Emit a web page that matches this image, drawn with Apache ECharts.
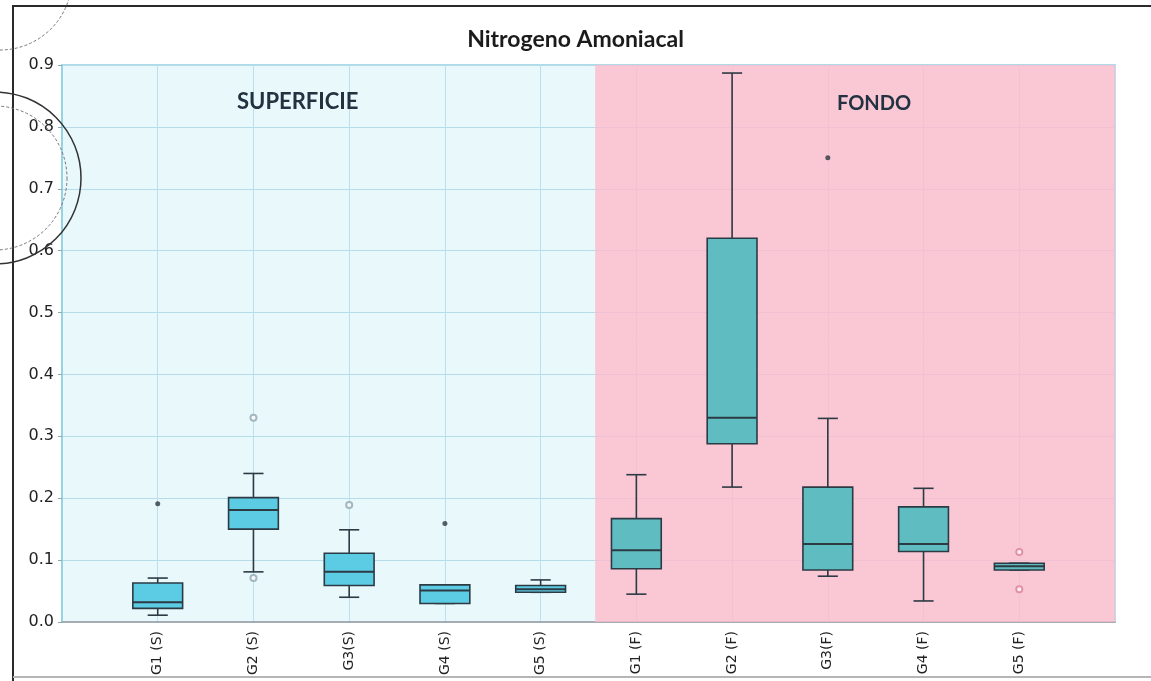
<!DOCTYPE html>
<html>
<head>
<meta charset="utf-8">
<script src="https://cdn.jsdelivr.net/npm/echarts@6/dist/echarts.min.js"></script>
<style>html,body{margin:0;padding:0;background:#fff;}#c{width:1151px;height:681px;}</style>
</head>
<body>
<div id="c"></div>
<script>
// ---- data ----
const categories = ['', 'G1 (S)', 'G2 (S)', 'G3(S)', 'G4 (S)', 'G5 (S)', 'G1 (F)', 'G2 (F)', 'G3(F)', 'G4 (F)', 'G5 (F)', ' '];
const yTicks = [0, 0.1, 0.2, 0.3, 0.4, 0.5, 0.6, 0.7, 0.8, 0.9];
// [min, Q1, median, Q3, max]
const superficieIdx = [1, 2, 3, 4, 5];
const superficieBox = [
  [0.011, 0.022, 0.032, 0.063, 0.071],
  [0.081, 0.150, 0.181, 0.201, 0.240],
  [0.040, 0.059, 0.081, 0.111, 0.149],
  [0.030, 0.030, 0.051, 0.060, 0.060],
  [0.048, 0.048, 0.053, 0.059, 0.068]
];
const fondoIdx = [6, 7, 8, 9, 10];
const fondoBox = [
  [0.045, 0.086, 0.116, 0.167, 0.238],
  [0.218, 0.288, 0.330, 0.620, 0.887],
  [0.074, 0.084, 0.126, 0.218, 0.329],
  [0.034, 0.114, 0.126, 0.186, 0.216],
  [0.084, 0.084, 0.090, 0.095, 0.095]
];
// outliers: [category index, value]
const extremeOutliers = [[1, 0.191], [4, 0.159], [8, 0.750]];
const mildOutliersS = [[2, 0.330], [2, 0.071], [3, 0.189]];
const mildOutliersF = [[10, 0.113], [10, 0.053]];
const fondoStart = 5.57, fondoEnd = 11;

// ---- chart ----
const chart = echarts.init(document.getElementById('c'));
function rows(idx, box) { return idx.map((x, i) => [x].concat(box[i])); }
function makeRender(fill) {
  return function (params, api) {
    const x = api.value(0);
    const pMin = api.coord([x, api.value(1)]);
    const pQ1 = api.coord([x, api.value(2)]);
    const pMed = api.coord([x, api.value(3)]);
    const pQ3 = api.coord([x, api.value(4)]);
    const pMax = api.coord([x, api.value(5)]);
    const bw = api.size([1, 0])[0];
    const half = bw * 0.26, cap = bw * 0.105;
    const cx = pMed[0];
    const st = { stroke: '#2c3a44', lineWidth: 1.6 };
    return {
      type: 'group',
      children: [
        { type: 'line', shape: { x1: cx, y1: pQ3[1], x2: cx, y2: pMax[1] }, style: st },
        { type: 'line', shape: { x1: cx, y1: pQ1[1], x2: cx, y2: pMin[1] }, style: st },
        { type: 'line', shape: { x1: cx - cap, y1: pMax[1], x2: cx + cap, y2: pMax[1] }, style: st },
        { type: 'line', shape: { x1: cx - cap, y1: pMin[1], x2: cx + cap, y2: pMin[1] }, style: st },
        { type: 'rect', shape: { x: cx - half, y: pQ3[1], width: 2 * half, height: pQ1[1] - pQ3[1] },
          style: { fill: fill, stroke: '#2c3a44', lineWidth: 1.6 } },
        { type: 'line', shape: { x1: cx - half, y1: pMed[1], x2: cx + half, y2: pMed[1] },
          style: { stroke: '#2c3a44', lineWidth: 2 } }
      ]
    };
  };
}

const option = {
  animation: false,
  title: {
    text: 'Nitrogeno Amoniacal', left: 'center', top: 23,
    textStyle: { fontFamily: 'Lato', fontWeight: 'bold', fontSize: 23, color: '#1b1b1b' }
  },
  grid: {
    left: 62, right: 36, top: 65, bottom: 59, show: true,
    backgroundColor: '#e8f8fb', borderColor: '#93cfe0', borderWidth: 1.5
  },
  xAxis: [{
    type: 'category', data: categories, boundaryGap: false,
    axisLine: { show: true, lineStyle: { color: '#a4adb5', width: 2 } },
    axisTick: { show: false },
    splitLine: { show: true, lineStyle: { color: '#bcdfec', width: 1 } },
    axisLabel: { interval: 0, rotate: 90, margin: 9, color: '#222',
      fontFamily: 'DejaVu Sans', fontSize: 14 }
  }, {
    type: 'value', min: 0, max: 11, show: false
  }],
  yAxis: {
    type: 'value', min: 0, max: 0.9, interval: 0.1,
    axisLine: { show: true, lineStyle: { color: '#8fd0e0', width: 1.5 } },
    axisTick: { show: true, length: 4, lineStyle: { color: '#8aa' } },
    splitLine: { show: true, lineStyle: { color: '#b6dcec', width: 1 } },
    axisLabel: { color: '#222', fontFamily: 'DejaVu Sans', fontSize: 16, margin: 8,
      formatter: v => { const t = yTicks.find(k => Math.abs(k - v) < 1e-9); return (t !== undefined ? t : v).toFixed(1); } }
  },
  series: [
    {
      type: 'scatter', xAxisIndex: 1, data: [[0, 0]], symbolSize: 0, silent: true, z: 1,
      markArea: {
        silent: true,
        itemStyle: { color: 'rgba(254,186,204,0.8)' },
        data: [[{ xAxis: fondoStart }, { xAxis: fondoEnd }]]
      }
    },
    {
      type: 'custom', name: 'SUPERFICIE', z: 3,
      renderItem: makeRender('#5ccbe4'),
      encode: { x: 0, y: [1, 2, 3, 4, 5] },
      data: rows(superficieIdx, superficieBox)
    },
    {
      type: 'custom', name: 'FONDO', z: 3,
      renderItem: makeRender('#5fbcc0'),
      encode: { x: 0, y: [1, 2, 3, 4, 5] },
      data: rows(fondoIdx, fondoBox)
    },
    {
      type: 'scatter', z: 4, symbol: 'circle', symbolSize: 5,
      itemStyle: { color: '#2d3740' }, data: extremeOutliers
    },
    {
      type: 'scatter', z: 4, symbol: 'emptyCircle', symbolSize: 6,
      itemStyle: { color: '#8fa6b3', borderWidth: 1.2 }, data: mildOutliersS
    },
    {
      type: 'scatter', z: 4, symbol: 'emptyCircle', symbolSize: 6,
      itemStyle: { color: '#dd7f96', borderWidth: 1.2 }, data: mildOutliersF
    }
  ],
  graphic: [
    { type: 'text', left: 237, top: 91, z: 10,
      style: { text: 'SUPERFICIE', fill: '#233241', font: 'bold 22px Lato' } },
    { type: 'text', left: 837, top: 94, z: 10,
      style: { text: 'FONDO', fill: '#233241', font: 'bold 20px Lato' } },
    { type: 'polyline', z: 10, silent: true,
      shape: { points: [[13, 681], [13, 6], [1151, 6]] },
      style: { stroke: '#2a2a2a', lineWidth: 2, fill: null } },
    { type: 'line', z: 10, silent: true,
      shape: { x1: 13, y1: 677, x2: 1151, y2: 677 },
      style: { stroke: '#b5b5b5', lineWidth: 2 } },
    { type: 'circle', z: 10, silent: true, shape: { cx: -5, cy: 178, r: 86 },
      style: { stroke: '#333', lineWidth: 1.5, fill: null } },
    { type: 'circle', z: 10, silent: true, shape: { cx: -5, cy: 178, r: 72 },
      style: { stroke: '#777', lineWidth: 1, fill: null, lineDash: [3, 2] } },
    { type: 'circle', z: 10, silent: true, shape: { cx: 0, cy: -22, r: 72 },
      style: { stroke: '#777', lineWidth: 1, fill: null, lineDash: [3, 2] } }
  ]
};
chart.setOption(option);
</script>
</body>
</html>
